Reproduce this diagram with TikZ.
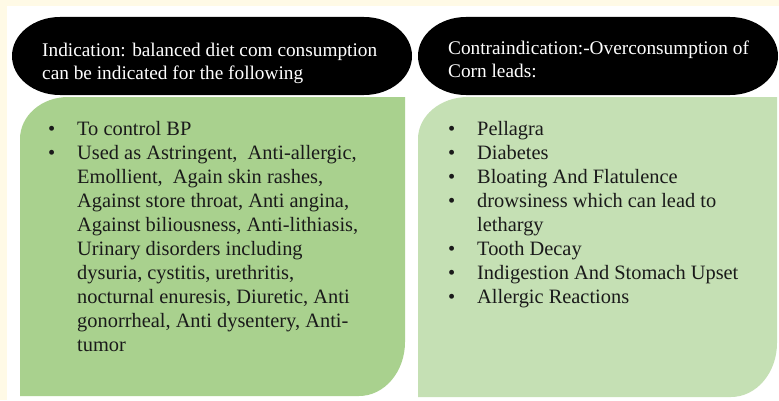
\documentclass[tikz,border=0pt]{standalone}
\usepackage{fontspec}
\setmainfont{Liberation Serif}
\definecolor{cream}{HTML}{FFFAE6}
\definecolor{greenA}{HTML}{A9D18E}
\definecolor{greenB}{HTML}{C5E0B4}
\definecolor{bodytext}{HTML}{1A1A1A}
\newcommand{\bl}{\makebox[29pt][l]{\textbullet}}
\newcommand{\ind}{\hspace*{29pt}}
\begin{document}
\begin{tikzpicture}[x=1pt,y=1pt,
  headtext/.style={text=white,font=\fontsize{19.3}{23}\selectfont,align=left,inner sep=0pt,anchor=west},
  bodytxt/.style={text=bodytext,font=\fontsize{20.4}{24}\selectfont,align=left,inner sep=0pt,anchor=north west}]
\useasboundingbox (0,0) rectangle (779,400);
\fill[cream] (0,0) rectangle (779,400);
\fill[white] (7,0) rectangle (779,394);
% headers
\fill[black] (60,383) -- (364,383) arc[start angle=90,end angle=-90,x radius=48,y radius=39] -- (60,305) arc[start angle=270,end angle=90,x radius=48,y radius=39] -- cycle;
\fill[black] (466,383) -- (730,383) arc[start angle=90,end angle=-90,x radius=48,y radius=39] -- (466,305) arc[start angle=270,end angle=90,x radius=48,y radius=39] -- cycle;
% green boxes
\fill[greenA] (20,4) -- (20,261) arc[start angle=180,end angle=90,x radius=48,y radius=42] -- (405,303) -- (405,58) arc[start angle=0,end angle=-90,x radius=46,y radius=54] -- cycle;
\fill[greenB] (418,3) -- (418,261) arc[start angle=180,end angle=90,x radius=50,y radius=42] -- (777,303) -- (777,57) arc[start angle=0,end angle=-90,x radius=46,y radius=54] -- cycle;
% texts
\node[headtext] (h1) at (42,337) {Indication: balanced diet com consumption\\can be indicated for the following};
\node[headtext] (h2) at (448,340.5) {Contraindication:-Overconsumption of\\Corn leads:};
\node[bodytxt] (b1) at (48,279) {\bl To control BP\\
\bl Used as Astringent,\ \ Anti-allergic,\\
\ind Emollient,\ \ Again skin rashes,\\
\ind Against store throat, Anti angina,\\
\ind Against biliousness, Anti-lithiasis,\\
\ind Urinary disorders including\\
\ind dysuria, cystitis, urethritis,\\
\ind nocturnal enuresis, Diuretic, Anti\\
\ind gonorrheal, Anti dysentery, Anti-\\
\ind tumor};
\node[bodytxt] (b2) at (448,279) {\bl Pellagra\\
\bl Diabetes\\
\bl Bloating And Flatulence\\
\bl drowsiness which can lead to\\
\ind lethargy\\
\bl Tooth Decay\\
\bl Indigestion And Stomach Upset\\
\bl Allergic Reactions};
\end{tikzpicture}
\end{document}
